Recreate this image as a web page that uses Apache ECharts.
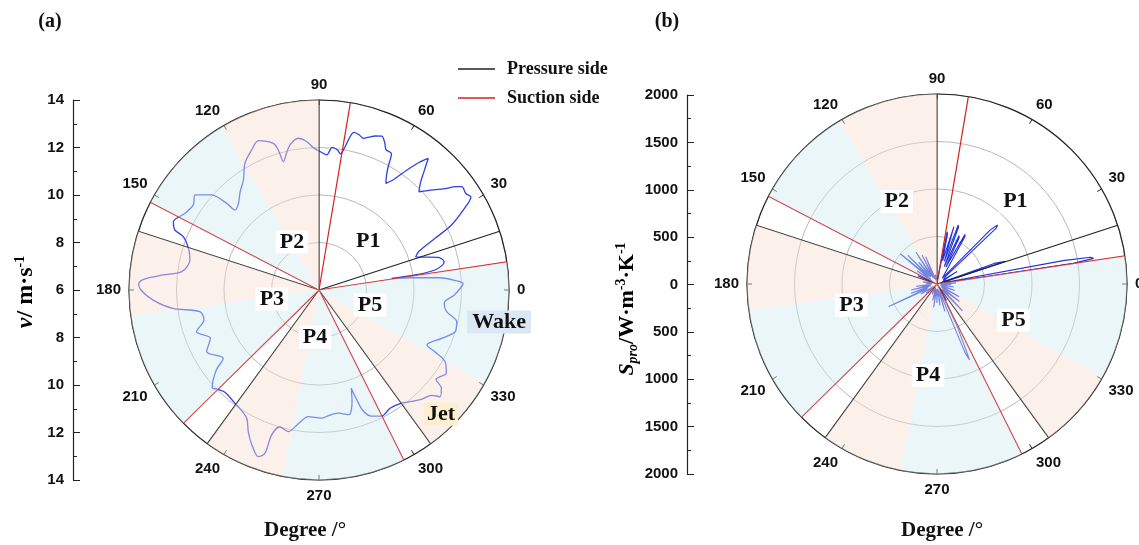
<!DOCTYPE html>
<html><head><meta charset="utf-8">
<script src="https://cdn.jsdelivr.net/npm/echarts@6/dist/echarts.min.js"></script>
<style>html,body{margin:0;padding:0;background:#fff}#c{width:1139px;height:545px}</style>
</head><body><div id="c"></div>
<script>
// ---------- data ----------
const vTickLabels = ['14', '12', '10', '8', '6', '8', '10', '12', '14'];
const sTickLabels = ['2000', '1500', '1000', '500', '0', '500', '1000', '1500', '2000'];
const pressureAngles = [18, 90, 162, 234, 306];
const suctionAngles = [8.5, 80.5, 152.5, 224.5, 296.5];
const wakeSectors = [[330.5, 368.5], [121, 152.5], [188, 224.5], [259, 296.5]];
const jetSectors = [[306, 330.5], [90, 121], [162, 188], [234, 259]];

// (a) velocity v (m/s) along the curve
const velocityAngle = [9.1, 8.9, 9.8, 11.4, 12.7, 15.3, 17.1, 18.8, 21.1, 24.0, 26.1, 29.2, 31.5, 33.2, 35.9, 37.2, 38.5, 41.2, 44.5, 46.5, 48.2, 50.3, 52.0, 53.8, 56.0, 57.9, 59.5, 60.7, 62.0, 64.5, 66.0, 67.8, 70.0, 71.5, 73.7, 75.5, 77.5, 79.7, 81.0, 82.5, 84.7, 86.7, 89.0, 92.3, 95.0, 97.8, 101.3, 103.5, 105.5, 106.2, 107.3, 112.1, 115.7, 120.3, 124.5, 128.8, 132.9, 136.4, 136.8, 138.5, 142.5, 145.9, 150.2, 154.9, 157.4, 158.5, 162.3, 166.9, 172.4, 174.5, 176.5, 178.0, 180.0, 183.5, 187.2, 190.3, 194.5, 198.8, 203.9, 208.8, 215.5, 218.0, 222.5, 224.0, 227.4, 233.5, 236.3, 240.6, 243.5, 246.5, 250.0, 251.7, 251.9, 254.0, 257.8, 261.2, 265.2, 271.2, 274.3, 278.9, 283.5, 286.5, 288.2, 289.0, 290.0, 292.5, 296.4, 301.0, 306.1, 309.7, 313.0, 317.0, 318.6, 321.3, 322.6, 326.9, 330.4, 332.0, 333.0, 338.5, 343.0, 347.0, 350.4, 354.0, 357.9, 1.3, 2.5, 3.5, 5.8, 7.6, 9.1];
const velocity = [9.1, 10.1, 10.95, 11.3, 11.4, 11.2, 10.7, 10.3, 10.5, 11.35, 12.2, 13.0, 13.5, 13.4, 13.42, 13.2, 12.87, 12.4, 11.9, 12.2, 12.6, 13.2, 12.8, 12.25, 11.6, 11.3, 11.6, 11.95, 12.5, 12.55, 12.8, 13.0, 12.9, 12.8, 12.65, 12.75, 12.8, 12.13, 11.8, 11.95, 12.03, 11.7, 11.8, 12.0, 12.3, 12.45, 12.23, 11.9, 11.6, 12.14, 12.47, 12.79, 12.54, 12.18, 11.62, 11.3, 10.98, 10.88, 11.33, 12.04, 12.58, 12.39, 12.5, 12.77, 12.57, 12.14, 11.77, 11.58, 11.83, 12.6, 13.4, 13.6, 13.5, 13.0, 12.2, 11.1, 11.0, 11.45, 11.0, 11.4, 10.95, 11.5, 12.1, 12.0, 11.85, 11.94, 12.0, 12.2, 12.67, 13.1, 13.47, 13.24, 12.42, 12.0, 12.1, 11.7, 11.35, 11.4, 11.3, 11.25, 11.4, 10.9, 10.35, 10.9, 11.4, 11.75, 11.93, 11.81, 11.9, 12.1, 12.3, 12.5, 12.8, 12.6, 12.2, 12.4, 12.1, 11.5, 11.1, 11.55, 12.0, 11.95, 11.45, 11.3, 11.7, 12.0, 12.07, 11.9, 11.1, 9.9, 9.1];

// (b) entropy production S_pro (W/m3/K) along the curve
const entropyAngle = [0, 3, 5, 7.3, 8.6, 9.3, 9.9, 10.5, 11.8, 14, 17.2, 18.4, 19.0, 19.8, 21.2, 25, 30, 32, 34, 38, 41.5, 43.3, 44.3, 45.4, 47.5, 52, 57, 59.5, 60.5, 62.5, 64.5, 65.5, 67.5, 69.2, 70.2, 72, 73.6, 74.6, 76.5, 78.2, 79, 80.5, 84, 90, 96, 100, 104, 108, 112.5, 113.5, 115.5, 117.5, 118.5, 121, 123.5, 124.5, 127, 130, 133, 135.5, 136.5, 138.5, 140.5, 141.5, 143.5, 147, 150, 154, 156.5, 157.5, 159, 165, 172, 175, 180, 183, 186, 189, 193, 196, 199.5, 200.5, 202.5, 205, 206, 208, 212, 215, 220, 224, 232, 240, 245, 249, 255, 258, 262, 265, 270, 273, 278, 282, 286, 289, 292.2, 293.2, 294.2, 295.5, 297.5, 300, 303, 309, 313.5, 314.5, 316.5, 322, 325, 330, 333, 340, 343, 350, 353, 358, 360];
const entropy = [60, 200, 40, 80, 1450, 1670, 1640, 1350, 80, 60, 120, 760, 780, 640, 60, 50, 120, 250, 80, 70, 120, 860, 890, 800, 80, 60, 80, 580, 600, 200, 540, 560, 200, 640, 660, 250, 630, 640, 250, 540, 560, 100, 40, 30, 50, 100, 40, 60, 310, 320, 60, 340, 350, 80, 400, 410, 100, 300, 100, 430, 440, 120, 500, 515, 80, 250, 60, 70, 220, 230, 60, 40, 150, 50, 120, 60, 220, 60, 280, 70, 290, 300, 100, 560, 580, 120, 200, 50, 150, 40, 30, 50, 120, 40, 180, 50, 250, 60, 200, 50, 230, 60, 300, 80, 780, 870, 860, 500, 60, 200, 40, 50, 390, 400, 80, 300, 60, 270, 50, 200, 40, 180, 40, 150, 60];

// region annotations: [radius, angle]
const regionNames = ['P1', 'P2', 'P3', 'P4', 'P5'];
const regionPosA = [[8.9, 44.4], [8.32, 119.4], [8.02, 190.8], [7.99, 265.1], [8.24, 343.6]];
const regionPosB = [[1196, 46.4], [965, 116], [927, 193.9], [967, 264.4], [890, 334.7]];
const flowNames = ['Wake', 'Jet'];
const flowPosA = [[13.7, 349.9], [13.33, 314.5]];

// ---------- styling ----------
const SERIF = 'Liberation Serif';
const SANS = 'Liberation Sans';
const INK = '#111';
const WAKE_FILL = 'rgba(210,235,241,0.45)';
const JET_FILL = 'rgba(248,224,208,0.45)';

function zip(a, b) { return a.map((x, i) => [b[i], x]); }
function spokes(angles, rMin, rMax) {
  const d = [];
  angles.forEach(a => { d.push([rMin, a], [rMax, a], ['-', '-']); });
  return d;
}
function sectorRender(rMin, rMax, color) {
  return function (params, api) {
    const a1 = api.value(0), a2 = api.value(1);
    const pts = [api.coord([rMin, a1])];
    for (let a = a1; a < a2; a += 0.5) pts.push(api.coord([rMax, a]));
    pts.push(api.coord([rMax, a2]));
    return { type: 'polygon', shape: { points: pts }, style: { fill: color }, silent: true };
  };
}
function angleAxis(idx) {
  return {
    polarIndex: idx, type: 'value', min: 0, max: 360, interval: 30, startAngle: 0, clockwise: false,
    axisLine: { lineStyle: { color: '#222', width: 1.2 } },
    axisTick: { show: true, inside: true, length: 5, lineStyle: { color: '#222' } },
    axisLabel: { color: INK, fontFamily: SANS, fontWeight: 'bold', fontSize: 15, margin: 8 },
    splitLine: { show: false }
  };
}
function radiusAxis(idx, min, max, interval) {
  return {
    polarIndex: idx, type: 'value', min: min, max: max, interval: interval,
    axisLine: { show: false }, axisTick: { show: false }, axisLabel: { show: false },
    splitLine: { show: true, lineStyle: { color: '#b8b8b8', width: 1 } }
  };
}
function sideAxis(idx, labels) {
  return {
    gridIndex: idx, type: 'value', min: 0, max: labels.length - 1, interval: 1,
    axisLine: { show: true, lineStyle: { color: '#222', width: 1.2 } },
    axisTick: { show: true, inside: true, length: 7, lineStyle: { color: '#222' } },
    minorTick: { show: true, splitNumber: 2, length: 4, lineStyle: { color: '#222' } },
    splitLine: { show: false },
    axisLabel: { color: INK, fontFamily: SANS, fontWeight: 'bold', fontSize: 15, margin: 9,
      formatter: v => labels[v] }
  };
}
function labelSeries(idx, names, pos, bgs, pads) {
  return {
    type: 'custom', coordinateSystem: 'polar', polarIndex: idx, z: 30, silent: true,
    data: pos,
    renderItem: function (params, api) {
      const p = api.coord([api.value(0), api.value(1)]);
      const i = params.dataIndex;
      return {
        type: 'text', x: p[0], y: p[1], z2: 100,
        style: {
          text: names[i], fill: INK, fontFamily: SERIF, fontWeight: 'bold', fontSize: 22,
          align: 'center', verticalAlign: 'middle',
          backgroundColor: bgs ? bgs[i] : '#fff', padding: pads ? pads[i] : [1, 4, 0, 4]
        }
      };
    }
  };
}

const series = [];
[[0, 6, 14], [1, 0, 2000]].forEach(([p, r0, r1]) => {
  series.push({ type: 'custom', coordinateSystem: 'polar', polarIndex: p, z: 10, silent: true,
    renderItem: sectorRender(r0, r1, WAKE_FILL), data: wakeSectors });
  series.push({ type: 'custom', coordinateSystem: 'polar', polarIndex: p, z: 10, silent: true,
    renderItem: sectorRender(r0, r1, JET_FILL), data: jetSectors });
  series.push({ name: 'Pressure side', type: 'line', coordinateSystem: 'polar', polarIndex: p, z: 4,
    symbol: 'none', connectNulls: false, lineStyle: { color: '#222', width: 1.2 }, itemStyle: { color: '#222' },
    data: spokes(pressureAngles, r0, r1) });
  series.push({ name: 'Suction side', type: 'line', coordinateSystem: 'polar', polarIndex: p, z: 4,
    symbol: 'none', connectNulls: false, lineStyle: { color: '#d42020', width: 1.2 }, itemStyle: { color: '#d42020' },
    data: spokes(suctionAngles, r0, r1) });
});
series.push({ type: 'line', coordinateSystem: 'polar', polarIndex: 0, z: 3, symbol: 'none', smooth: 0.3,
  lineStyle: { color: '#2e40e6', width: 1.3 }, data: zip(velocityAngle, velocity) });
series.push({ type: 'line', coordinateSystem: 'polar', polarIndex: 1, z: 3, symbol: 'none',
  lineStyle: { color: '#2233d8', width: 1.1 }, data: zip(entropyAngle, entropy) });
series.push(labelSeries(0, regionNames, regionPosA));
series.push(labelSeries(1, regionNames, regionPosB));
series.push(labelSeries(0, flowNames, flowPosA, ['#dbe7f3', '#fcefcf'], [[1, 5, 0, 5], [1, 3, 0, 3]]));

const titleFont = { fontFamily: SERIF, fontWeight: 'bold', fill: INK };
const option = {
  animation: false,
  backgroundColor: '#fff',
  polar: [{ center: [319, 290], radius: 190 }, { center: [937, 284], radius: 190 }],
  angleAxis: [angleAxis(0), angleAxis(1)],
  radiusAxis: [radiusAxis(0, 6, 14, 2), radiusAxis(1, 0, 2000, 500)],
  grid: [{ left: 73, top: 100, width: 20, height: 380 }, { left: 687, top: 95, width: 20, height: 379 }],
  xAxis: [{ gridIndex: 0, show: false, type: 'value' }, { gridIndex: 1, show: false, type: 'value' }],
  yAxis: [sideAxis(0, vTickLabels), sideAxis(1, sTickLabels)],
  legend: {
    data: ['Pressure side', 'Suction side'], orient: 'vertical', left: 453, top: 54,
    icon: 'rect', itemWidth: 37, itemHeight: 1.5, itemGap: 9,
    textStyle: { fontFamily: SERIF, fontWeight: 'bold', fontSize: 18, color: INK, padding: [0, 0, 0, 7], lineHeight: 20 }
  },
  graphic: [
    { type: 'text', x: 50, y: 22, style: Object.assign({ text: '(a)', fontSize: 20, align: 'center', verticalAlign: 'middle' }, titleFont) },
    { type: 'text', x: 667, y: 22, style: Object.assign({ text: '(b)', fontSize: 20, align: 'center', verticalAlign: 'middle' }, titleFont) },
    { type: 'text', x: 305, y: 531, style: Object.assign({ text: 'Degree /°', fontSize: 21, align: 'center', verticalAlign: 'middle' }, titleFont) },
    { type: 'text', x: 942, y: 531, style: Object.assign({ text: 'Degree /°', fontSize: 21, align: 'center', verticalAlign: 'middle' }, titleFont) },
    { type: 'text', x: 26, y: 292, rotation: Math.PI / 2, style: {
      text: '{i|v}{n|/ m·s}{s|-1}', align: 'center', verticalAlign: 'middle',
      rich: {
        i: { fontFamily: SERIF, fontWeight: 'bold', fontStyle: 'italic', fontSize: 24, color: INK, lineHeight: 26 },
        n: { fontFamily: SERIF, fontWeight: 'bold', fontSize: 24, color: INK, lineHeight: 26 },
        s: { fontFamily: SERIF, fontWeight: 'bold', fontSize: 14, color: INK, verticalAlign: 'top', lineHeight: 14 }
      } } },
    { type: 'text', x: 627, y: 309, rotation: Math.PI / 2, style: {
      text: '{i|S}{b|pro}{n|/W·m}{s|-3}{n|·K}{s|-1}', align: 'center', verticalAlign: 'middle',
      rich: {
        i: { fontFamily: SERIF, fontWeight: 'bold', fontStyle: 'italic', fontSize: 22, color: INK, lineHeight: 26 },
        b: { fontFamily: SERIF, fontWeight: 'bold', fontStyle: 'italic', fontSize: 14, color: INK, verticalAlign: 'bottom', lineHeight: 14 },
        n: { fontFamily: SERIF, fontWeight: 'bold', fontSize: 22, color: INK, lineHeight: 26 },
        s: { fontFamily: SERIF, fontWeight: 'bold', fontSize: 14, color: INK, verticalAlign: 'top', lineHeight: 14 }
      } } }
  ],
  series: series
};
const chart = echarts.init(document.getElementById('c'), null, { renderer: 'canvas' });
chart.setOption(option);
</script></body></html>
